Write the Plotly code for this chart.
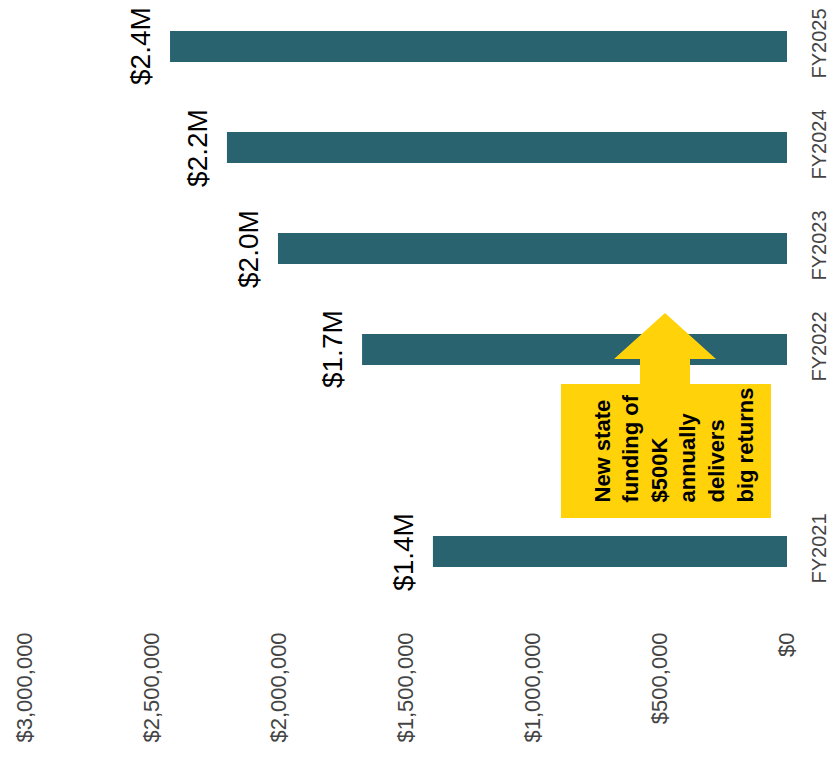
import plotly.graph_objects as go

# ---- data ----
years = ["FY2021", "FY2022", "FY2023", "FY2024", "FY2025"]
funding = [1394000, 1673000, 2004000, 2205000, 2429000]
# category order on the axis (a blank slot sits between FY2021 and FY2022)
category_order = ["FY2021", "\u00a0", "FY2022", "FY2023", "FY2024", "FY2025"]
value_ticks = [0, 500000, 1000000, 1500000, 2000000, 2500000, 3000000]
callout_lines = ["New state", "funding of", "$500K", "annually", "delivers", "big returns"]

W, H = 830, 769
L, R, T, B = 25, 43, 10, 144
PW, PH = W - L - R, H - T - B


def px(x):
    return (x - L) / PW


def py(y):
    return (H - B - y) / PH


BAR = "#28636f"
YEL = "#FFD20A"
FONT = "Liberation Sans, Arial, sans-serif"

fig = go.Figure()
fig.add_trace(go.Bar(
    y=years, x=funding, orientation="h",
    marker=dict(color=BAR, line=dict(width=0)),
    width=0.307, hoverinfo="skip",
))

annotations = []
for yr, v in zip(years, funding):
    annotations.append(dict(
        x=v, y=yr, xref="x", yref="y", text=f"${v/1e6:.1f}M",
        textangle=-90, showarrow=False, xanchor="right", yanchor="middle",
        xshift=-12, font=dict(family=FONT, size=28, color="#000000"),
    ))

annotations.append(dict(
    x=px(673), y=py(505), xref="paper", yref="paper",
    text="<br>".join(callout_lines), textangle=-90, align="left",
    showarrow=False, xanchor="center", yanchor="bottom",
    font=dict(family=FONT, size=22, color="#000000", weight="bold"),
))

pts = [(561, 518), (561, 384), (640, 384), (640, 359), (614, 359), (665, 313),
       (716, 359), (690, 359), (690, 384), (771, 384), (771, 518)]
path = "M " + " L ".join(f"{px(a):.5f},{py(b):.5f}" for a, b in pts) + " Z"

fig.update_layout(
    width=W, height=H,
    margin=dict(l=L, r=R, t=T, b=B, autoexpand=False),
    paper_bgcolor="white", plot_bgcolor="white",
    showlegend=False,
    shapes=[dict(type="path", path=path, xref="paper", yref="paper",
                 fillcolor=YEL, line=dict(width=0), layer="above")],
    annotations=annotations,
    xaxis=dict(
        range=[3000000, 0], tickvals=value_ticks, tickformat="$,.0f",
        tickangle=-90, showgrid=False, zeroline=False, showline=False,
        tickfont=dict(family=FONT, size=22, color="#444444"),
        automargin=False, ticks="", ticklabelstandoff=2,
    ),
    yaxis=dict(
        type="category", categoryorder="array", categoryarray=category_order,
        range=[-0.728, 5.361], side="right", tickangle=-90,
        showgrid=False, zeroline=False, showline=False,
        tickfont=dict(family=FONT, size=20, color="#444444"),
        automargin=False, ticks="", ticklabelstandoff=18,
    ),
)

fig.write_html("out.html")
